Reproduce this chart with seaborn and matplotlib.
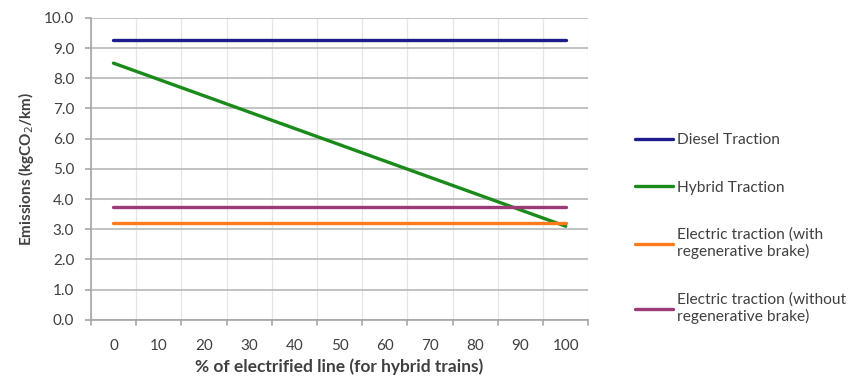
import numpy as np
import pandas as pd
import matplotlib.pyplot as plt
import seaborn as sns

# % of electrified line (categories on x axis)
electrified = ['0', '10', '20', '30', '40', '50', '60', '70', '80', '90', '100']

diesel = [9.25, 9.25, 9.25, 9.25, 9.25, 9.25, 9.25, 9.25, 9.25, 9.25, 9.25]
hybrid = [8.50, 7.96, 7.42, 6.88, 6.34, 5.80, 5.26, 4.72, 4.18, 3.64, 3.10]
elec_regen = [3.20, 3.20, 3.20, 3.20, 3.20, 3.20, 3.20, 3.20, 3.20, 3.20, 3.20]
elec_noregen = [3.75, 3.75, 3.75, 3.75, 3.75, 3.75, 3.75, 3.75, 3.75, 3.75, 3.75]

series_names = ['Diesel Traction', 'Hybrid Traction',
                'Electric traction (with\nregenerative brake)',
                'Electric traction (without\nregenerative brake)']
colors = ['#1c1c8c', '#1a8a1a', '#ff7a1a', '#9c3a78']

rows = []
for name, vals in zip(series_names, [diesel, hybrid, elec_regen, elec_noregen]):
    for i, v in enumerate(vals):
        rows.append({'pos': i, 'emissions': v, 'series': name})
df = pd.DataFrame(rows)

sns.set_style('white')
plt.rcParams['font.family'] = ['Lato', 'DejaVu Sans']
txt = '#404040'

fig = plt.figure(figsize=(8.49, 3.79), dpi=100)
ax = fig.add_axes([0.107, 0.156, 0.586, 0.797])

sns.lineplot(data=df, x='pos', y='emissions', hue='series', hue_order=series_names,
             palette=colors, linewidth=2.4, ax=ax, legend=False)

ax.set_xlim(-0.5, len(electrified) - 0.5)
ax.set_ylim(0, 10)

# major y grid
ax.set_yticks(np.arange(0, 10.01, 1.0))
ax.set_yticklabels([f'{v:.1f}' for v in np.arange(0, 10.01, 1.0)])
ax.grid(axis='y', which='major', color='#bdbdbd', linewidth=1.3)

# x labels at category centres, ticks at boundaries, light minor grid
ax.set_xticks(np.arange(len(electrified)))
ax.set_xticklabels(electrified)
ax.tick_params(axis='x', length=0, pad=14, labelsize=11, labelcolor=txt)
ax.set_xticks(np.arange(-0.5, len(electrified), 0.5), minor=True)
ax.tick_params(axis='x', which='minor', length=0)
ax.grid(axis='x', which='minor', color='#e6e6e6', linewidth=0.9)
for b in np.arange(-0.5, len(electrified), 1.0):
    ax.plot([b, b], [0, -0.18], color='#a6a6a6', lw=1.2, clip_on=False)

ax.tick_params(axis='y', length=4, width=1.2, color='#a6a6a6', labelsize=11,
               labelcolor=txt, left=True, pad=8)
ax.set_axisbelow(True)

for s in ['top', 'right']:
    ax.spines[s].set_visible(False)
for s in ['left', 'bottom']:
    ax.spines[s].set_color('#a6a6a6')
    ax.spines[s].set_linewidth(1.2)

ax.set_xlabel('% of electrified line (for hybrid trains)', fontsize=12.5,
              fontweight='bold', color=txt, labelpad=4)
ax.set_ylabel('Emissions (kgCO$_2$/km)', fontsize=11, fontweight='bold',
              color=txt, labelpad=6)

handles = [plt.Line2D([], [], color=c, lw=2.4) for c in colors]
fig.legend(handles, series_names, loc='upper left', bbox_to_anchor=(0.731, 0.685),
           frameon=False, fontsize=11.2, handlelength=2.45, handletextpad=0.25,
           labelspacing=2.13, labelcolor=txt)

fig.savefig('out.png', dpi=100)
